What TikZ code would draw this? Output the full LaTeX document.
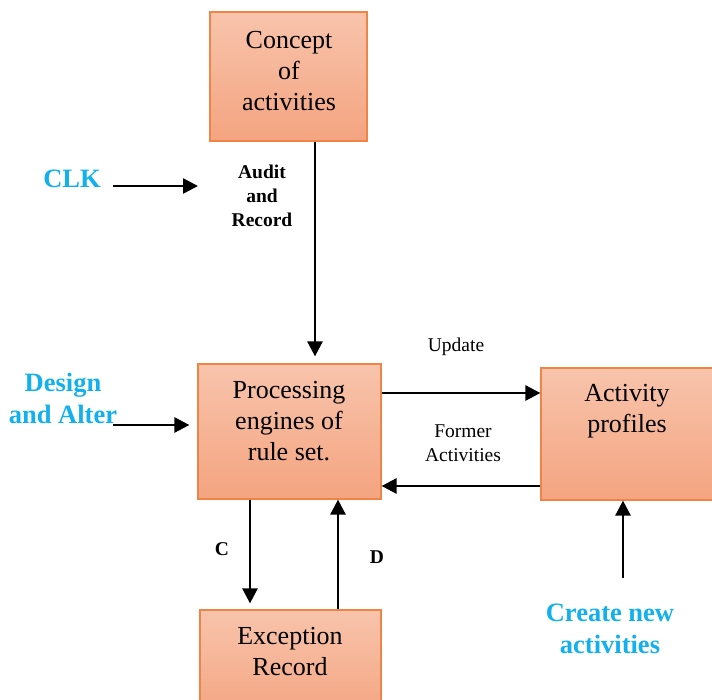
\documentclass[tikz,border=0pt]{standalone}
\usepackage{fontspec}
\setmainfont{Liberation Serif}
\usetikzlibrary{arrows.meta, positioning}
\definecolor{boxtop}{HTML}{F8C4AC}
\definecolor{boxbot}{HTML}{F4A480}
\definecolor{boxline}{HTML}{EE8446}
\definecolor{inblue}{HTML}{12B0EC}

\begin{document}
\begin{tikzpicture}[x=1pt, y=-1pt,
	blk/.style={draw=boxline, line width=1.2pt, top color=boxtop, bottom color=boxbot, inner sep=0pt},
	blktext/.style={align=center, inner sep=0pt, font=\fontsize{26}{31}\selectfont},
	tag/.style={align=center, inner sep=0pt, font=\fontsize{19.5}{24}\selectfont},
	btag/.style={tag, font=\fontsize{19.5}{24}\selectfont\bfseries},
	inlabel/.style={align=center, inner sep=0pt, text=inblue, font=\fontsize{26.5}{32}\selectfont\bfseries},
	flow/.style={line width=2.6pt, -{Triangle[length=15pt,width=15pt]}}]
	\useasboundingbox (0,0) rectangle (712,700);
	\clip (0,0) rectangle (712,700);

	% blocks
	\node[blk, minimum width=157, minimum height=129] (concept) at (288.5,76.5) {};
	\node[blk, minimum width=183, minimum height=135] (proc) at (289.5,431.5) {};
	\node[blk, minimum width=175, minimum height=132] (act) at (628.5,434) {};
	\node[blk, minimum width=181, minimum height=110] (exc) at (290.5,665) {};

	\node[blktext] (concepttxt) at (289,71) {Concept\\of\\activities};
	\node[blktext] (proctxt) at (289,421) {Processing\\engines of\\rule set.};
	\node[blktext] (acttxt) at (627,411) {Activity\\profiles};
	\node[blktext] (exctxt) at (290,652) {Exception\\Record};

	% inputs and labels
	\node[inlabel] (clk) at (72,179) {CLK};
	\node[inlabel] (design) at (63,398) {Design\\and Alter};
	\node[inlabel] (create) at (610,629) {Create new\\activities};
	\node[btag] (audit) at (262,196) {Audit\\and\\Record};
	\node[tag] (update) at (456,347) {Update};
	\node[tag] (former) at (463,443) {Former\\Activities};
	\node[btag] (clab) at (222,549) {C};
	\node[btag] (dlab) at (377,557) {D};

	\coordinate (ax) at (315,0);
	\coordinate (clkA) at (113,186);
	\coordinate (clkB) at (198,186);
	\coordinate (desA) at (113,425);
	\coordinate (upy) at (0,393);
	\coordinate (fmy) at (0,486);
	\coordinate (cx) at (250,0);
	\coordinate (dx) at (338,0);
	\coordinate (newA) at (623,578);

	% connectors
	\draw[flow, shorten >=7pt] (concept.south -| ax) -- (proc.north -| ax);
	\draw[flow] (clkA) -- (clkB);
	\draw[flow, shorten >=8pt] (desA) -- (proc.west |- desA);
	\draw[flow] (proc.east |- upy) -- (act.west |- upy);
	\draw[flow] (act.west |- fmy) -- (proc.east |- fmy);
	\draw[flow, shorten >=6pt] (proc.south -| cx) -- (exc.north -| cx);
	\draw[flow] (exc.north -| dx) -- (proc.south -| dx);
	\draw[flow] (newA) -- (act.south -| newA);
\end{tikzpicture}
\end{document}
